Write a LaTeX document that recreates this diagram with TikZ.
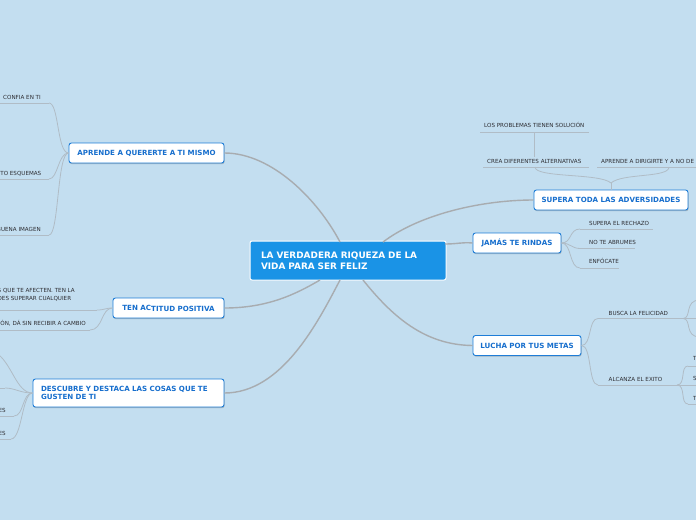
\documentclass[tikz,border=0pt]{standalone}
\usepackage{fontspec}
\setmainfont{DejaVu Sans}
\usetikzlibrary{shadows,calc}
\definecolor{bgblue}{RGB}{195,222,240}
\definecolor{centralblue}{RGB}{26,147,230}
\definecolor{topicborder}{RGB}{30,125,215}
\definecolor{topictext}{RGB}{22,110,205}
\definecolor{mainline}{RGB}{168,172,176}
\definecolor{leafgray}{RGB}{176,188,198}
\definecolor{leaftext}{RGB}{45,45,50}
\tikzset{
  centralbox/.style={fill=centralblue, draw=white, line width=1pt, rounded corners=2pt,
    text=white, font=\bfseries\fontsize{8.9}{11}\selectfont, align=left,
    inner xsep=11pt, inner ysep=0pt, text width=174pt, minimum height=39pt},
  topicbox/.style={fill=white, draw=topicborder, line width=0.9pt, rounded corners=2.5pt,
    text=topictext, font=\bfseries\fontsize{7.1}{8.7}\selectfont, inner sep=0pt,
    minimum height=20pt, drop shadow={shadow xshift=0.6pt, shadow yshift=-1.2pt, opacity=0.35, fill=black!60}},
  leaf/.style={text=leaftext, font=\fontsize{5.6}{7.3}\selectfont, inner xsep=0pt, inner ysep=2pt},
  mainconn/.style={draw=mainline, line width=1.4pt},
  leafconn/.style={draw=leafgray, line width=0.8pt},
}
\begin{document}
\begin{tikzpicture}[x=1pt,y=-1pt]
\fill[bgblue] (0,0) rectangle (696,520);
\useasboundingbox (0,0) rectangle (696,520);

\coordinate (cA) at (340,242);
\coordinate (cT) at (320,280);
\coordinate (cD) at (340,280);
\coordinate (cS) at (383,242);
\coordinate (cJ) at (445,244);
\coordinate (cL) at (363,280);

% ---------- central node ----------
\node[centralbox] (c) at (348,260.5) {LA VERDADERA RIQUEZA DE LA\\VIDA PARA SER FELIZ};

% ---------- topic nodes ----------
\node[topicbox, minimum width=155pt] (a) at (146.5,153) {APRENDE A QUERERTE A TI MISMO};
\node[topicbox, minimum width=111pt] (t) at (168.5,308) {TEN AC\raisebox{-1pt}{TITUD POSITIVA}};
\node[topicbox, minimum height=28pt, text width=175pt, inner xsep=8pt, align=left] (d) at (128.5,393) {DESCUBRE Y DESTACA LAS COSAS QUE TE\\GUSTEN DE TI};
\node[topicbox, minimum width=154pt] (s) at (611,200) {SUPERA TODA LAS ADVERSIDADES};
\node[topicbox, minimum width=88pt] (j) at (517,243) {JAMÁS TE RINDAS};
\node[topicbox, minimum width=108pt] (l) at (527,345.5) {LUCHA POR TUS METAS};

% main connectors
\draw[mainconn] (a.east) .. controls (272,153) and (318,200) .. (cA);
\draw[mainconn] (t.east) .. controls (268,308) and (296,294) .. (cT);
\draw[mainconn] (d.east) .. controls (282,393) and (318,322) .. (cD);
\draw[mainconn] (cS) .. controls (420,214) and (482,200) .. (s.west);
\draw[mainconn] (cJ) .. controls (458,244) and (462,242) .. (j.west);
\draw[mainconn] (cL) .. controls (392,316) and (424,345) .. (l.west);

% ---------- APRENDE leaves ----------
\node[leaf, anchor=base east] (a1) at (41,99) {CONFIA EN TI};
\node[leaf, anchor=base east] (a2) at (41.5,175) {UTO ESQUEMAS};
\node[leaf, anchor=base east] (a3) at (41,231) {BUENA IMAGEN};
\coordinate (ua1) at (49,103);
\coordinate (ua2) at (49,179);
\coordinate (ua3) at (49,235);
\draw[leafconn] (-5,103) -- (ua1);
\draw[leafconn] (-5,179) -- (ua2);
\draw[leafconn] (-5,235) -- (ua3);
\draw[leafconn] (a.west) .. controls (57,153) and (59,103) .. (ua1);
\draw[leafconn] (a.west) .. controls (58,153) and (58,179) .. (ua2);
\draw[leafconn] (a.west) .. controls (57,153) and (59,235) .. (ua3);

% ---------- TEN ACTITUD leaves ----------
\node[leaf, anchor=east, align=left] (t1) at (75,294.7) {S QUE TE AFECTEN. TEN LA\\DES SUPERAR CUALQUIER};
\node[leaf, anchor=base east] (t2) at (86,325.3) {ÓN, DÁ SIN RECIBIR A CAMBIO};
\coordinate (ut1) at (97,310);
\coordinate (ut2) at (90,330);
\draw[leafconn] (-5,310) -- (ut1);
\draw[leafconn] (-5,330) -- (ut2);
\draw[leafconn] (t.west) .. controls (105,308) and (105,310) .. (ut1);
\draw[leafconn] (t.west) .. controls (101,308) and (103,330) .. (ut2);

% ---------- DESCUBRE leaves ----------
\coordinate (ud0) at (5,388);
\coordinate (ud1) at (-5,352);
\node[leaf, anchor=base east] (d2) at (6,412) {ES};
\node[leaf, anchor=base east] (d3) at (6,435) {ES};
\coordinate (ud2) at (14,416);
\coordinate (ud3) at (11,439);
\draw[leafconn] (-5,388) -- (ud0);
\draw[leafconn] (-5,416) -- (ud2);
\draw[leafconn] (-5,439) -- (ud3);
\draw[leafconn] (d.west) .. controls (20,393) and (15,388) .. (ud0);
\draw[leafconn] (d.west) .. controls (16,393) and (12,362) .. (ud1);
\draw[leafconn] (d.west) .. controls (22,393) and (24,416) .. (ud2);
\draw[leafconn] (d.west) .. controls (22,393) and (22,439) .. (ud3);

% ---------- SUPERA leaves ----------
\node[leaf, anchor=base west] (s1) at (487,163) {CREA DIFERENTES ALTERNATIVAS};
\node[leaf, anchor=base west] (s2) at (601,163) {APRENDE A DIRIGIRTE Y A NO DE};
\node[leaf, anchor=base west] (s3) at (484,127.7) {LOS PROBLEMAS TIENEN SOLUCIÓN};
\coordinate (us1) at (535,167);
\coordinate (us2) at (669,167);
\coordinate (us3) at (534.5,132);
\coordinate (sj) at (611,183);
\draw[leafconn] (483,167) -- (589,167);
\draw[leafconn] (597,167) -- (700,167);
\draw[leafconn] (480,132) -- (589,132);
\draw[leafconn] (us3) -- (s1.north -| us3);
\draw[leafconn] (s.north) -- (sj);
\draw[leafconn] (sj) .. controls (600,173) and (535,178) .. (us1);
\draw[leafconn] (sj) .. controls (622,173) and (669,178) .. (us2);

% ---------- JAMAS leaves ----------
\node[leaf, anchor=base west] (j1) at (589,225) {SUPERA EL RECHAZO};
\node[leaf, anchor=base west] (j2) at (589,244.7) {NO TE ABRUMES};
\node[leaf, anchor=base west] (j3) at (589,263.7) {ENFÓCATE};
\coordinate (uj1) at (580,229);
\coordinate (uj2) at (580,248.5);
\coordinate (uj3) at (580,268);
\draw[leafconn] (uj1) -- (653,229);
\draw[leafconn] (uj2) -- (635,248.5);
\draw[leafconn] (uj3) -- (619,268);
\draw[leafconn] (j.east) .. controls (572,243) and (569,229) .. (uj1);
\draw[leafconn] (j.east) .. controls (570,243) and (572,248.5) .. (uj2);
\draw[leafconn] (j.east) .. controls (572,243) and (569,268) .. (uj3);

% ---------- LUCHA leaves ----------
\node[leaf, anchor=base west] (l1) at (608.5,315) {BUSCA LA FELICIDAD};
\node[leaf, anchor=base west] (l2) at (608.5,381) {ALCANZA EL EXITO};
\coordinate (ul1) at (598,318.5);
\coordinate (ul2) at (598,385);
\coordinate (el1) at (683,318.5);
\coordinate (el2) at (677,385);
\draw[leafconn] (ul1) -- (el1);
\draw[leafconn] (ul2) -- (el2);
\draw[leafconn] (l.east) .. controls (592,345.5) and (588,318.5) .. (ul1);
\draw[leafconn] (l.east) .. controls (592,345.5) and (588,385) .. (ul2);
\draw[leafconn] (el1) .. controls (692,318.5) and (684,300) .. (700,300);
\draw[leafconn] (el1) -- (700,318.5);
\draw[leafconn] (el1) .. controls (692,318.5) and (684,337) .. (700,337);
\node[leaf, anchor=base west] (l21) at (693,360) {T};
\node[leaf, anchor=base west] (l22) at (693,380) {S};
\node[leaf, anchor=base west] (l23) at (693,400) {T};
\coordinate (u21) at (688,366);
\coordinate (u23) at (688,404);
\draw[leafconn] (u21) -- (700,366);
\draw[leafconn] (el2) -- (700,385);
\draw[leafconn] (u23) -- (700,404);
\draw[leafconn] (el2) .. controls (686,385) and (680,366) .. (u21);
\draw[leafconn] (el2) .. controls (686,385) and (680,404) .. (u23);
\end{tikzpicture}
\end{document}
